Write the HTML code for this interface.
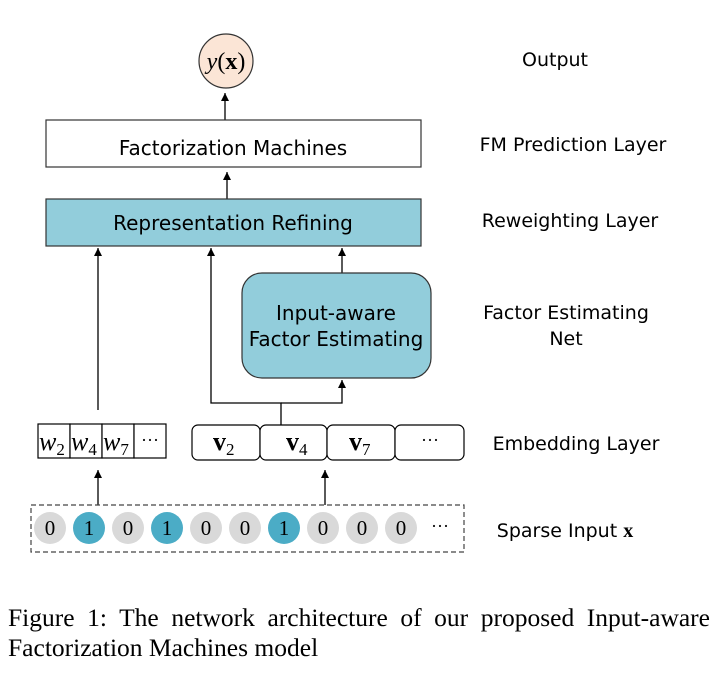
<!DOCTYPE html>
<html><head><meta charset="utf-8"><style>
body{margin:0;background:#fff;width:717px;height:674px;overflow:hidden}
.s{font-family:"DejaVu Sans","Liberation Sans",sans-serif}
.r{font-family:"Liberation Serif",serif}
.cap{position:absolute;left:8px;width:702px;font-family:"Liberation Serif",serif;font-size:25.5px;line-height:29px;white-space:nowrap;text-align:justify;text-align-last:justify}
</style></head><body>
<svg width="717" height="674" style="position:absolute;left:0;top:0">
<defs><marker id="a" markerWidth="8" markerHeight="8" refX="8" refY="4" orient="auto" markerUnits="userSpaceOnUse"><path d="M0,0 L8,4 L0,8 z" fill="#000"/></marker></defs>
<g stroke="#000" stroke-width="1.3" fill="none">
<line x1="225" y1="120" x2="225" y2="93" marker-end="url(#a)"/>
<line x1="227" y1="199" x2="227" y2="172" marker-end="url(#a)"/>
<line x1="98" y1="410" x2="98" y2="248" marker-end="url(#a)"/>
<polyline points="281,425 281,403 211,403 211,248" marker-end="url(#a)"/>
<polyline points="281,403 342,403 342,380" marker-end="url(#a)"/>
<line x1="342" y1="273" x2="342" y2="248" marker-end="url(#a)"/>
<line x1="98" y1="505" x2="98" y2="470" marker-end="url(#a)"/>
<line x1="325" y1="505" x2="325" y2="470" marker-end="url(#a)"/>
</g>
<circle cx="226" cy="61" r="27" fill="#fbe5d6" stroke="#333" stroke-width="1.2"/>
<text class="r" x="226" y="69" text-anchor="middle" font-size="24"><tspan font-style="italic">y</tspan>(<tspan font-weight="bold">x</tspan>)</text>
<rect x="46" y="120" width="375" height="47" fill="#fff" stroke="#333" stroke-width="1.2"/>
<text class="s" x="233" y="155" text-anchor="middle" font-size="20">Factorization Machines</text>
<rect x="46" y="199" width="375" height="47" fill="#92cddb" stroke="#333" stroke-width="1.2"/>
<text class="s" x="233" y="230" text-anchor="middle" font-size="20">Representation Refining</text>
<rect x="242" y="273" width="189" height="105" rx="20" fill="#92cddb" stroke="#333" stroke-width="1.2"/>
<text class="s" x="336" y="320" text-anchor="middle" font-size="20">Input-aware</text>
<text class="s" x="336" y="346" text-anchor="middle" font-size="20">Factor Estimating</text>
<g stroke="#000" stroke-width="1.2" fill="#fff">
<rect x="38" y="424" width="32" height="34"/><rect x="70" y="424" width="32" height="34"/><rect x="102" y="424" width="32" height="34"/><rect x="134" y="424" width="32" height="34"/>
<rect x="192" y="425" width="68" height="35" rx="6"/><rect x="260" y="425" width="67" height="35" rx="6"/><rect x="327" y="425" width="68" height="35" rx="6"/><rect x="395" y="425" width="69" height="35" rx="6"/>
</g>
<g class="r" font-size="26">
<text class="r" x="39" y="450" font-style="italic">w<tspan font-size="17" dy="5" font-style="normal">2</tspan></text>
<text class="r" x="71" y="450" font-style="italic">w<tspan font-size="17" dy="5" font-style="normal">4</tspan></text>
<text class="r" x="103" y="450" font-style="italic">w<tspan font-size="17" dy="5" font-style="normal">7</tspan></text>
<text class="r" x="150" y="446" text-anchor="middle" font-size="18">···</text>
<text class="r" x="213" y="450" font-weight="bold">v<tspan font-size="17" dy="5" font-weight="normal">2</tspan></text>
<text class="r" x="286" y="450" font-weight="bold">v<tspan font-size="17" dy="5" font-weight="normal">4</tspan></text>
<text class="r" x="349" y="450" font-weight="bold">v<tspan font-size="17" dy="5" font-weight="normal">7</tspan></text>
<text class="r" x="430" y="446" text-anchor="middle" font-size="18">···</text>
</g>
<rect x="31" y="505" width="433" height="47" fill="none" stroke="#444" stroke-width="1.2" stroke-dasharray="5,3"/>
<g font-size="21" text-anchor="middle">
<circle cx="50" cy="528" r="16" fill="#d9d9d9"/><text class="r" x="50" y="535">0</text>
<circle cx="89" cy="528" r="16" fill="#4bacc6"/><text class="r" x="89" y="535">1</text>
<circle cx="128" cy="528" r="16" fill="#d9d9d9"/><text class="r" x="128" y="535">0</text>
<circle cx="167" cy="528" r="16" fill="#4bacc6"/><text class="r" x="167" y="535">1</text>
<circle cx="206" cy="528" r="16" fill="#d9d9d9"/><text class="r" x="206" y="535">0</text>
<circle cx="245" cy="528" r="16" fill="#d9d9d9"/><text class="r" x="245" y="535">0</text>
<circle cx="284" cy="528" r="16" fill="#4bacc6"/><text class="r" x="284" y="535">1</text>
<circle cx="323" cy="528" r="16" fill="#d9d9d9"/><text class="r" x="323" y="535">0</text>
<circle cx="362" cy="528" r="16" fill="#d9d9d9"/><text class="r" x="362" y="535">0</text>
<circle cx="401" cy="528" r="16" fill="#d9d9d9"/><text class="r" x="401" y="535">0</text>
<text class="r" x="440" y="532" font-size="18">···</text>
</g>
<g font-size="19" text-anchor="middle">
<text class="s" x="555" y="66">Output</text>
<text class="s" x="573" y="151">FM  Prediction Layer</text>
<text class="s" x="570" y="227">Reweighting Layer</text>
<text class="s" x="566" y="319">Factor Estimating</text>
<text class="s" x="566" y="345">Net</text>
<text class="s" x="576" y="450">Embedding Layer</text>
<text class="s" x="565" y="537">Sparse Input <tspan class="r" font-weight="bold" font-size="20">x</tspan></text>
</g>
</svg>
<div class="cap" style="top:603px">Figure 1: The network architecture of our proposed Input-aware</div>
<div class="cap" style="top:633px;text-align:left;text-align-last:left">Factorization Machines model</div>
</body></html>
